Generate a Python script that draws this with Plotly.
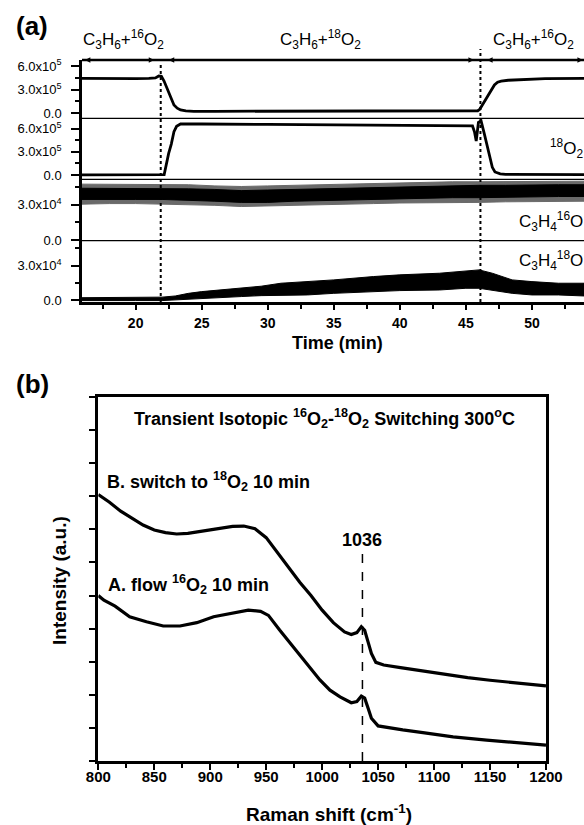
import plotly.graph_objects as go

W, H = 584, 825
FONT = "Liberation Sans, Arial, sans-serif"


def py(p):
    return 1 - p / H


def px(p):
    return p / W


# ---------------- Panel (a) data ----------------
# C3H6 + 16O2 signal (x1e5)
t_16o2 = [15.94, 17, 18, 19, 20, 21, 21.5, 21.75, 21.95, 22.15, 22.4, 22.65, 22.9, 23.15,
          23.4, 23.8, 24.4, 26, 30, 35, 40, 45, 45.9, 46.05, 46.3, 46.66, 46.9, 47.16,
          47.4, 47.67, 48.2, 49.4, 51, 53.94]
v_16o2 = [4.45, 4.42, 4.4, 4.42, 4.4, 4.45, 4.5, 4.75, 4.7, 4.1, 3.0, 1.9, 1.05, 0.65,
          0.42, 0.3, 0.25, 0.25, 0.25, 0.27, 0.27, 0.3, 0.32, 0.5, 1.2, 2.1, 2.85, 3.6,
          3.95, 4.1, 4.2, 4.32, 4.4, 4.45]

# 18O2 signal (x1e5)
t_18o2 = [15.94, 20, 22.0, 22.16, 22.5, 22.7, 22.9, 23.1, 23.4, 23.8, 25, 30, 35, 40, 45,
          45.5, 45.65, 45.78, 45.95, 46.15, 46.4, 46.6, 46.8, 47.0, 47.2, 47.6, 48.0,
          50, 53.94]
v_18o2 = [0.02, 0.02, 0.02, 0.05, 2.8, 4.0, 5.6, 6.3, 6.6, 6.62, 6.6, 6.55, 6.5, 6.45, 6.4,
          6.35, 5.6, 4.4, 6.8, 7.0, 5.3, 3.8, 2.3, 1.0, 0.4, 0.15, 0.08, 0.05, 0.05]

# C3H4 16O noise band (x1e4)
t_c3h4_16 = [15.94, 18, 20, 22, 24, 26, 28, 30, 32, 34, 36, 38, 40, 42, 44, 46, 48, 50, 52, 53.94]
c16_outer_hi = [4.75, 4.75, 4.7, 4.7, 4.7, 4.6, 4.55, 4.6, 4.65, 4.75, 4.8, 4.85, 4.9, 4.9,
                4.95, 4.95, 4.95, 5.0, 5.0, 5.0]
c16_outer_lo = [3.05, 3.1, 3.1, 3.1, 3.0, 2.95, 2.85, 2.85, 2.95, 3.0, 3.05, 3.1, 3.15, 3.15,
                3.2, 3.2, 3.25, 3.25, 3.3, 3.3]
c16_inner_hi = [4.4, 4.4, 4.4, 4.4, 4.35, 4.3, 4.2, 4.25, 4.3, 4.4, 4.45, 4.5, 4.55, 4.6,
                4.6, 4.65, 4.65, 4.7, 4.7, 4.7]
c16_inner_lo = [3.45, 3.45, 3.45, 3.45, 3.4, 3.3, 3.2, 3.2, 3.3, 3.4, 3.45, 3.5, 3.55, 3.55,
                3.6, 3.6, 3.65, 3.65, 3.7, 3.7]

# C3H4 18O noise band (x1e4)
t_c3h4_18 = [15.94, 18, 20, 22, 23, 24, 25, 26.5, 28, 29.5, 31, 33, 35, 38, 40, 43, 45, 46,
             47, 48.5, 50, 52, 53.94]
c18_hi = [0.2, 0.2, 0.2, 0.25, 0.35, 0.58, 0.73, 0.88, 1.0, 1.2, 1.46, 1.6, 1.75, 2.04, 2.19,
          2.33, 2.48, 2.62, 2.33, 1.75, 1.6, 1.46, 1.46]
c18_lo = [-0.05, -0.05, -0.05, -0.05, 0.0, 0.1, 0.15, 0.22, 0.3, 0.38, 0.44, 0.44, 0.58, 0.73,
          0.82, 0.87, 1.02, 1.02, 0.87, 0.58, 0.44, 0.44, 0.35]

time_ticks = [20, 25, 30, 35, 40, 45, 50]
switch_times = [21.9, 46.1]

# ---------------- Panel (b) data ----------------
raman_ticks = [800, 850, 900, 950, 1000, 1050, 1100, 1150, 1200]
raman_B = [800, 810, 820, 830, 840, 850, 860, 870, 880, 890, 900, 910, 920, 930, 940, 950,
           960, 970, 980, 990, 1000, 1010, 1020, 1026, 1031, 1035, 1038, 1041, 1044, 1048,
           1055, 1070, 1090, 1110, 1130, 1150, 1170, 1190, 1200]
int_B = [8.05, 7.82, 7.55, 7.33, 7.13, 6.98, 6.9, 6.86, 6.88, 6.93, 6.98, 7.05, 7.09, 7.1,
         7.02, 6.75, 6.3, 5.85, 5.4, 5.0, 4.56, 4.18, 3.9, 3.82, 3.88, 4.06, 3.95, 3.6, 3.25,
         2.98, 2.9, 2.82, 2.72, 2.6, 2.52, 2.44, 2.37, 2.3, 2.27]
raman_A = [800, 805, 815, 828, 843, 858, 873, 888, 903, 920, 934, 945, 952, 962, 974, 986,
           998, 1007, 1016, 1026, 1031, 1035, 1038, 1041, 1044, 1050, 1060, 1072, 1090, 1117,
           1147, 1176, 1200]
int_A = [5.0, 4.86, 4.68, 4.36, 4.21, 4.08, 4.08, 4.18, 4.36, 4.48, 4.56, 4.52, 4.4, 3.96,
         3.45, 2.95, 2.45, 2.14, 1.94, 1.76, 1.8, 1.96, 1.9, 1.6, 1.29, 1.06, 1.0, 0.94, 0.86,
         0.73, 0.63, 0.55, 0.48]
peak_pos = 1036

fig = go.Figure()


def band(t, hi, lo, scale, yax, color):
    fig.add_trace(go.Scatter(
        x=list(t) + list(t)[::-1],
        y=[v * scale for v in hi] + [v * scale for v in lo][::-1],
        xaxis="x", yaxis=yax, mode="lines", fill="toself",
        fillcolor=color, line=dict(color=color, width=1), hoverinfo="skip"))


fig.add_trace(go.Scatter(x=t_16o2, y=[v * 1e5 for v in v_16o2], xaxis="x", yaxis="y",
                         mode="lines", line=dict(color="black", width=2.8)))
fig.add_trace(go.Scatter(x=t_18o2, y=[v * 1e5 for v in v_18o2], xaxis="x", yaxis="y2",
                         mode="lines", line=dict(color="black", width=2.8)))
band(t_c3h4_16, c16_outer_hi, c16_outer_lo, 1e4, "y3", "#6a6a6a")
band(t_c3h4_16, c16_inner_hi, c16_inner_lo, 1e4, "y3", "black")
band(t_c3h4_18, c18_hi, c18_lo, 1e4, "y4", "black")

fig.add_trace(go.Scatter(x=raman_B, y=int_B, xaxis="x2", yaxis="y5", mode="lines",
                         line=dict(color="black", width=3.2)))
fig.add_trace(go.Scatter(x=raman_A, y=int_A, xaxis="x2", yaxis="y5", mode="lines",
                         line=dict(color="black", width=3.2)))

tickfont_reg = dict(family=FONT, size=13, color="black")
tickfont_bold = dict(family=FONT, size=14, color="black", weight="bold")


def yax_a(dom, rng, vals, texts, minor_dt):
    return dict(domain=dom, range=rng, anchor="x", tickmode="array", tickvals=vals,
                ticktext=texts, ticks="outside", ticklen=8, tickwidth=2, tickcolor="black",
                minor=dict(tickmode="linear", tick0=0, dtick=minor_dt, ticks="outside",
                           ticklen=4, tickwidth=1.5, tickcolor="black"),
                showline=True, linewidth=2.5, linecolor="black", showgrid=False,
                zeroline=False, tickfont=tickfont_reg, ticklabelstandoff=7,
                automargin=False, fixedrange=True)


e5 = ["0.0", "3.0x10<sup>5</sup>", "6.0x10<sup>5</sup>"]
e4 = ["0.0", "3.0x10<sup>4</sup>"]

fig.update_layout(
    template="none",
    width=W, height=H, autosize=False, margin=dict(l=0, r=0, t=0, b=0, pad=0),
    paper_bgcolor="white", plot_bgcolor="white", showlegend=False,
    font=dict(family=FONT, color="black"),
    xaxis=dict(domain=[px(82), 1], range=[15.94, 53.94], anchor="y4",
               tickmode="linear", tick0=0, dtick=5, ticks="outside", ticklen=5,
               tickwidth=2, tickcolor="black",
               minor=dict(tickmode="linear", tick0=0, dtick=2.5, ticks="outside",
                          ticklen=4, tickwidth=2, tickcolor="black"),
               showline=True, linewidth=2.5, linecolor="black", showgrid=False,
               zeroline=False, tickfont=tickfont_bold, ticklabelstandoff=1,
               automargin=False),
    yaxis=yax_a([py(118.3), py(60)], [-0.64e5, 6.78e5], [0, 3e5, 6e5], e5, 1.5e5),
    yaxis2=yax_a([py(179.3), py(118.3)], [-0.55e5, 7.34e5], [0, 3e5, 6e5], e5, 1.5e5),
    yaxis3=yax_a([py(240.7), py(179.3)], [-0.05e4, 5.16e4], [0, 3e4], e4, 1.5e4),
    yaxis4=yax_a([py(302.3), py(240.7)], [-0.2e4, 5.16e4], [0, 3e4], e4, 1.5e4),
    xaxis2=dict(domain=[px(98.3), px(546)], range=[800, 1200], anchor="y5",
                tickmode="array", tickvals=raman_ticks, ticks="outside", ticklen=6,
                tickwidth=2, tickcolor="black",
                minor=dict(tickmode="linear", tick0=800, dtick=25, ticks="outside",
                           ticklen=4, tickwidth=2, tickcolor="black"),
                showline=True, mirror=True, linewidth=2.5, linecolor="black",
                showgrid=False, zeroline=False,
                tickfont=dict(family=FONT, size=15, color="black", weight="bold"),
                ticklabelstandoff=-6, automargin=False),
    yaxis5=dict(domain=[py(761), py(397)], range=[0, 11], anchor="x2",
                tickmode="linear", tick0=0, dtick=1, ticks="outside", ticklen=7,
                tickwidth=2, tickcolor="black", showticklabels=False,
                showline=True, mirror=True, linewidth=2.5, linecolor="black",
                showgrid=False, zeroline=False, automargin=False),
)

shapes = []
# top border of panel (a)
shapes.append(dict(type="line", xref="paper", yref="paper", x0=px(82), x1=1,
                   y0=py(60), y1=py(60), line=dict(color="black", width=2.5)))
for yy in [118.3, 179.3, 240.7]:
    shapes.append(dict(type="line", xref="paper", yref="paper", x0=px(82), x1=1,
                       y0=py(yy), y1=py(yy), line=dict(color="black", width=1.3)))
shapes.append(dict(type="line", xref="x", yref="paper", x0=switch_times[0], x1=switch_times[0],
                   y0=py(302), y1=py(62), line=dict(color="black", width=2, dash="dot")))
shapes.append(dict(type="line", xref="x", yref="paper", x0=switch_times[1], x1=switch_times[1],
                   y0=py(302), y1=py(49), line=dict(color="black", width=2, dash="dot")))
shapes.append(dict(type="line", xref="x2", yref="y5", x0=peak_pos, x1=peak_pos,
                   y0=0, y1=6.3, line=dict(color="black", width=1.5, dash="dash")))
fig.update_layout(shapes=shapes)

ann = []


def text(x, y, s, size, bold=False, xanchor="center", angle=0):
    ann.append(dict(x=px(x), y=py(y), xref="paper", yref="paper", text=s,
                    showarrow=False, xanchor=xanchor, yanchor="middle", textangle=angle,
                    font=dict(family=FONT, size=size, color="black",
                              weight="bold" if bold else "normal")))


text(32, 26, "(a)", 26, True)
text(32, 384, "(b)", 26, True)
text(123, 40, "C<sub>3</sub>H<sub>6</sub>+<sup>16</sup>O<sub>2</sub>", 17)
text(320, 40, "C<sub>3</sub>H<sub>6</sub>+<sup>18</sup>O<sub>2</sub>", 17)
text(533, 40, "C<sub>3</sub>H<sub>6</sub>+<sup>16</sup>O<sub>2</sub>", 17)
text(585, 148, "<sup>18</sup>O<sub>2</sub>", 17, xanchor="right")
text(585, 222, "C<sub>3</sub>H<sub>4</sub><sup>16</sup>O", 17, xanchor="right")
text(585, 260, "C<sub>3</sub>H<sub>4</sub><sup>18</sup>O", 17, xanchor="right")
text(337, 343, "Time (min)", 18, True)
text(325, 418, "Transient Isotopic <sup>16</sup>O<sub>2</sub>-<sup>18</sup>O<sub>2</sub> "
     "Switching 300<sup>o</sup>C", 18, True)
text(105, 481, "B. switch to <sup>18</sup>O<sub>2</sub> 10 min", 18, True, xanchor="left")
text(106, 584, "A. flow <sup>16</sup>O<sub>2</sub> 10 min", 18, True, xanchor="left")
text(362, 540, "1036", 18, True)
text(59, 581, "Intensity (a.u.)", 19, True, angle=-90)
text(329, 813, "Raman shift (cm<sup>-1</sup>)", 19, True)

# segment arrows along the top border
for a, b in [(16.05, 21.4), (22.4, 45.6), (46.5, 53.85)]:
    ann.append(dict(x=b, y=py(60), xref="x", yref="paper", ax=a, ay=0, axref="x",
                    ayref="pixel", text="", showarrow=True, arrowhead=2, arrowside="end+start",
                    arrowsize=0.9, arrowwidth=1.2, arrowcolor="black"))

fig.update_layout(annotations=ann)
fig.write_html("out.html", config={"responsive": False, "displayModeBar": False},
               post_script="document.body.style.margin='0';document.body.style.overflow='hidden';")
